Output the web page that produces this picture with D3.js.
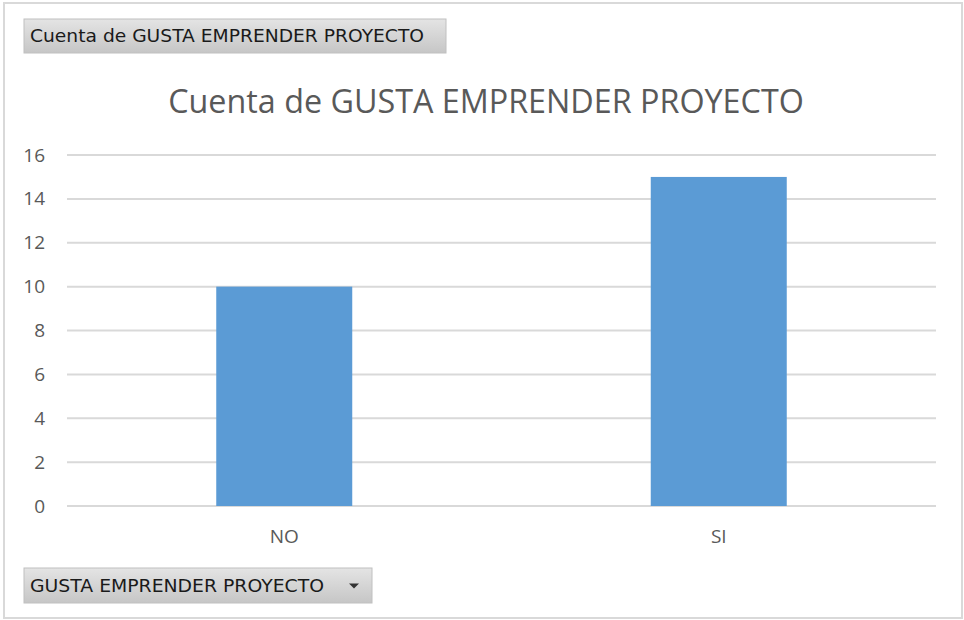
<!DOCTYPE html>
<html>
<head>
<meta charset="utf-8">
<script src="https://cdn.jsdelivr.net/npm/d3@7"></script>
<style>
  body { margin: 0; background: #fff; }
  svg { display: block; }
</style>
</head>
<body>
<svg id="chart" width="964" height="620"></svg>
<script>
const categories = ['NO', 'SI'];
const counts = [10, 15];
const yTicks = [0, 2, 4, 6, 8, 10, 12, 14, 16];
const chartTitle = 'Cuenta de GUSTA EMPRENDER PROYECTO';
const valueButton = 'Cuenta de GUSTA EMPRENDER PROYECTO';
const fieldButton = 'GUSTA EMPRENDER PROYECTO';

const svg = d3.select('#chart');
const width = 964, height = 620;
const margin = { top: 155, right: 28, bottom: 114, left: 67 };

// gradient for the pivot buttons
const grad = svg.append('defs').append('linearGradient')
  .attr('id', 'btnGrad')
  .attr('x1', 0).attr('y1', 0).attr('x2', 0).attr('y2', 1);
grad.append('stop').attr('offset', '0%').attr('stop-color', '#e4e4e4');
grad.append('stop').attr('offset', '100%').attr('stop-color', '#c6c6c6');

// outer frame
svg.append('rect')
  .attr('x', 4).attr('y', 3)
  .attr('width', width - 6).attr('height', height - 5)
  .attr('fill', '#fff')
  .attr('stroke', '#d9d9d9')
  .attr('stroke-width', 2);

const x = d3.scaleBand()
  .domain(categories)
  .range([margin.left, width - margin.right])
  .paddingInner(0.687)
  .paddingOuter(0.3435);

const y = d3.scaleLinear()
  .domain([0, 16])
  .range([height - margin.bottom, margin.top]);

// gridlines
svg.append('g')
  .attr('class', 'grid')
  .selectAll('line')
  .data(yTicks)
  .enter()
  .append('line')
  .attr('x1', margin.left)
  .attr('x2', width - margin.right)
  .attr('y1', d => y(d))
  .attr('y2', d => y(d))
  .attr('stroke', '#d9d9d9')
  .attr('stroke-width', 2);

// y axis labels
const yAxis = d3.axisLeft(y).tickValues(yTicks).tickSize(0).tickPadding(22);
svg.append('g')
  .attr('transform', `translate(${margin.left},0)`)
  .call(yAxis)
  .call(g => g.select('.domain').remove())
  .selectAll('text')
  .attr('font-family', 'Open Sans, sans-serif')
  .attr('font-size', 19)
  .attr('fill', '#595959');

// bars
svg.append('g')
  .selectAll('rect')
  .data(categories)
  .enter()
  .append('rect')
  .attr('x', d => x(d))
  .attr('y', (d, i) => y(counts[i]))
  .attr('width', x.bandwidth())
  .attr('height', (d, i) => y(0) - y(counts[i]))
  .attr('fill', '#5b9bd5');

// x axis labels
const xAxis = d3.axisBottom(x).tickSize(0).tickPadding(24);
svg.append('g')
  .attr('transform', `translate(0,${y(0)})`)
  .call(xAxis)
  .call(g => g.select('.domain').remove())
  .selectAll('text')
  .attr('font-family', 'Open Sans, sans-serif')
  .attr('font-size', 19)
  .attr('fill', '#595959');

// title
svg.append('text')
  .attr('x', 486)
  .attr('y', 113)
  .attr('text-anchor', 'middle')
  .attr('font-family', 'Open Sans, sans-serif')
  .attr('font-size', 32.3)
  .attr('fill', '#595959')
  .text(chartTitle);

// pivot buttons
function button(bx, by, bw, bh, label, textW, arrow) {
  const b = svg.append('g').attr('transform', `translate(${bx},${by})`);
  b.append('rect')
    .attr('width', bw).attr('height', bh)
    .attr('fill', 'url(#btnGrad)')
    .attr('stroke', '#c0c0c0')
    .attr('stroke-width', 1);
  b.append('text')
    .attr('x', 6)
    .attr('y', bh / 2 + 6)
    .attr('font-family', 'DejaVu Sans, sans-serif')
    .attr('font-size', 17)
    .attr('fill', '#1a1a1a')
    .attr('textLength', textW)
    .attr('lengthAdjust', 'spacingAndGlyphs')
    .text(label);
  if (arrow) {
    b.append('path')
      .attr('d', `M${bw - 23},${bh / 2 - 2} l10,0 l-5,5 z`)
      .attr('fill', '#333');
  }
}
button(24, 19, 422, 34, valueButton, 394, false);
button(24, 568, 348, 35, fieldButton, 294, true);
</script>
</body>
</html>
